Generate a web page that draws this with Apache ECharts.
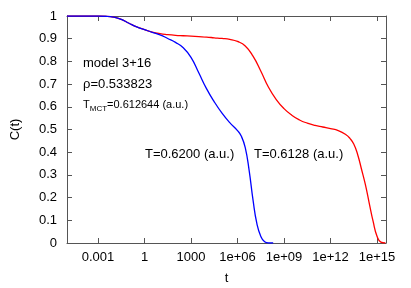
<!DOCTYPE html>
<html>
<head>
<meta charset="utf-8">
<script src="https://cdn.jsdelivr.net/npm/echarts@6/dist/echarts.min.js"></script>
<style>html,body{margin:0;padding:0;background:#fff}#c{width:411px;height:288px}</style>
</head>
<body>
<div id="c"></div>
<script>
// Data
const xTickValues = [1e-3, 1, 1e3, 1e6, 1e9, 1e12, 1e15];
const xTickLabels = ['0.001', '1', '1000', '1e+06', '1e+09', '1e+12', '1e+15'];
const yTickLabels = ['0', '0.1', '0.2', '0.3', '0.4', '0.5', '0.6', '0.7', '0.8', '0.9', '1'];

const tRed = [1e-5, 1e-4, 1e-3, 3.16e-3, 1e-2, 3.16e-2, 0.1, 0.316, 1, 3.16, 10, 31.6, 100, 316, 1e3, 3.16e3, 1e4, 3.16e4, 1e5, 3.16e5, 1e6,
  3.16e6, 1e7, 3.16e7, 1e8, 3.16e8, 1e9, 3.16e9, 1e10, 3.16e10, 1e11, 3.16e11, 1e12, 3.16e12, 1e13,
  1.78e13, 3.16e13, 5.62e13, 1e14, 1.78e14, 3.16e14, 5.62e14, 1e15, 1.78e15, 3.5e15];
const cRed = [1, 1, 1, 0.999, 0.995, 0.985, 0.968, 0.952, 0.94, 0.929, 0.922, 0.918, 0.915, 0.913, 0.911, 0.909, 0.907, 0.904, 0.901, 0.897, 0.888,
  0.868, 0.823, 0.758, 0.686, 0.632, 0.592, 0.563, 0.542, 0.528, 0.518, 0.511, 0.504, 0.495, 0.477,
  0.461, 0.436, 0.39, 0.325, 0.257, 0.175, 0.095, 0.03, 0.004, 0];

const tBlue = [1e-5, 1e-4, 1e-3, 3.16e-3, 1e-2, 3.16e-2, 0.1, 0.316, 1, 3.16, 10, 31.6, 100, 316, 1e3, 3.16e3, 1e4, 3.16e4, 1e5, 3.16e5, 1e6,
  1.78e6, 3.16e6, 5.62e6, 1e7, 1.78e7, 3.16e7, 5.62e7, 1e8, 2e8];
const cBlue = [1, 1, 1, 0.999, 0.995, 0.985, 0.968, 0.952, 0.94, 0.928, 0.917, 0.901, 0.884, 0.86, 0.818, 0.75, 0.68, 0.622, 0.572, 0.53, 0.495,
  0.47, 0.42, 0.32, 0.19, 0.085, 0.03, 0.005, 0, 0];

const xMin = 1e-5, xMax = 3.8e15;

const FONT = "'Liberation Sans', Arial, sans-serif";
const AXIS_COLOR = '#555';

function xFmt(v) {
  const e = Math.log10(v);
  const r = Math.round(e);
  if (Math.abs(e - r) > 0.01) return '';
  const i = xTickValues.findIndex(t => Math.round(Math.log10(t)) === r);
  return i >= 0 ? xTickLabels[i] : '';
}
function yFmt(v) {
  const i = Math.round(v * 10);
  return yTickLabels[i] !== undefined ? yTickLabels[i] : '';
}

const chart = echarts.init(document.getElementById('c'), null, { renderer: 'canvas' });

const baseX = {
  type: 'log', logBase: 1000, min: xMin, max: xMax,
  axisLine: { show: true, onZero: false, lineStyle: { color: AXIS_COLOR, width: 1 } },
  axisTick: { show: true, inside: true, length: 5, lineStyle: { color: AXIS_COLOR } },
  splitLine: { show: false }, minorTick: { show: false }
};
const baseY = {
  type: 'value', min: 0, max: 1, interval: 0.1,
  axisLine: { show: true, onZero: false, lineStyle: { color: AXIS_COLOR, width: 1 } },
  axisTick: { show: true, inside: true, length: 5, lineStyle: { color: AXIS_COLOR } },
  splitLine: { show: false }
};

chart.setOption({
  animation: false,
  backgroundColor: '#fff',
  grid: { left: 67, right: 25, top: 16, bottom: 45, containLabel: false, outerBoundsMode: 'none' },
  xAxis: [
    Object.assign({}, baseX, {
      position: 'bottom',
      name: 't', nameLocation: 'middle', nameGap: 29,
      nameTextStyle: { fontFamily: FONT, fontSize: 13, color: '#000' },
      axisLabel: { show: true, margin: 8, fontFamily: FONT, fontSize: 13, color: '#000',
        showMinLabel: false, showMaxLabel: false, formatter: xFmt }
    }),
    Object.assign({}, baseX, { position: 'top', axisLabel: { show: false } })
  ],
  yAxis: [
    Object.assign({}, baseY, {
      position: 'left',
      name: 'C(t)', nameLocation: 'middle', nameGap: 45, nameRotate: 90,
      nameTextStyle: { fontFamily: FONT, fontSize: 13, color: '#000' },
      axisLabel: { show: true, margin: 10, fontFamily: FONT, fontSize: 13, color: '#000', formatter: yFmt }
    }),
    Object.assign({}, baseY, { position: 'right', axisLabel: { show: false } })
  ],
  series: [
    {
      type: 'line', name: 'T=0.6128', xAxisIndex: 0, yAxisIndex: 0,
      data: tRed.map((t, i) => [t, cRed[i]]),
      showSymbol: false, smooth: 0.5,
      lineStyle: { color: '#ff0000', width: 1.3 }, itemStyle: { color: '#ff0000' }
    },
    {
      type: 'line', name: 'T=0.6200', xAxisIndex: 0, yAxisIndex: 0,
      data: tBlue.map((t, i) => [t, cBlue[i]]),
      showSymbol: false, smooth: 0.5,
      lineStyle: { color: '#0000ff', width: 1.3 }, itemStyle: { color: '#0000ff' }
    }
  ],
  graphic: [
    { type: 'text', x: 83, y: 63, style: { text: 'model 3+16', font: '13px ' + FONT, fill: '#000', verticalAlign: 'middle' } },
    { type: 'text', x: 83, y: 84, style: { text: 'ρ=0.533823', font: '13px ' + FONT, fill: '#000', verticalAlign: 'middle' } },
    { type: 'text', x: 83, y: 105, style: {
        text: '{a|T}{b|MCT}{a|=0.612644 (a.u.)}', verticalAlign: 'middle', fill: '#000',
        rich: {
          a: { fontFamily: FONT, fontSize: 11, fill: '#000', lineHeight: 16, verticalAlign: 'middle' },
          b: { fontFamily: FONT, fontSize: 8, fill: '#000', lineHeight: 16, verticalAlign: 'middle', padding: [7, 0, 0, 0] }
        } } },
    { type: 'text', x: 145, y: 154, style: { text: 'T=0.6200 (a.u.)', font: '13px ' + FONT, fill: '#000', verticalAlign: 'middle' } },
    { type: 'text', x: 254, y: 154, style: { text: 'T=0.6128 (a.u.)', font: '13px ' + FONT, fill: '#000', verticalAlign: 'middle' } }
  ]
});
</script>
</body>
</html>
